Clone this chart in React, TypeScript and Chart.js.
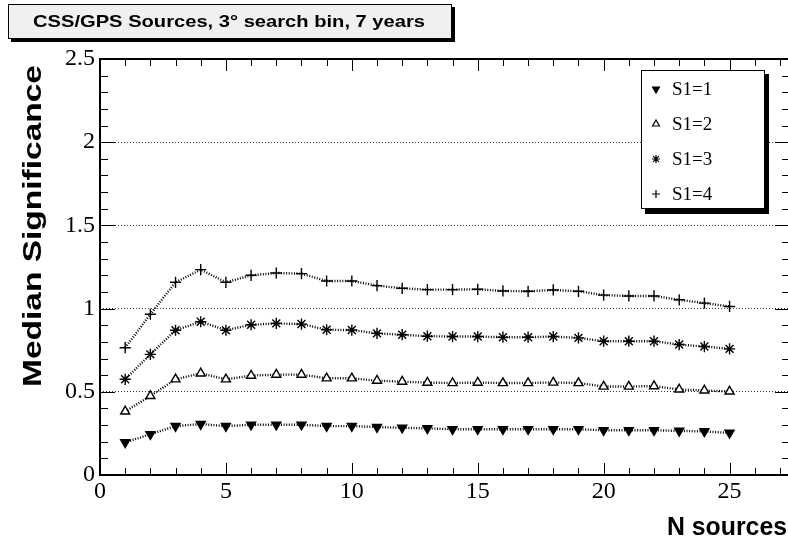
import React, { useEffect, useRef } from 'react';
import { Chart, registerables } from 'chart.js';
import { drawPoint } from 'chart.js/helpers';
Chart.register(...registerables);

// ---- data ----
const nSources = [1, 2, 3, 4, 5, 6, 7, 8, 9, 10, 11, 12, 13, 14, 15, 16, 17, 18, 19, 20, 21, 22, 23, 24, 25];
const s1Eq1 = [0.196, 0.245, 0.294, 0.306, 0.294, 0.302, 0.302, 0.302, 0.294, 0.294, 0.288, 0.284, 0.280, 0.275, 0.275, 0.275, 0.275, 0.275, 0.275, 0.269, 0.269, 0.269, 0.265, 0.262, 0.253];
const s1Eq2 = [0.382, 0.475, 0.575, 0.611, 0.575, 0.597, 0.603, 0.603, 0.581, 0.581, 0.567, 0.561, 0.555, 0.553, 0.555, 0.553, 0.553, 0.556, 0.553, 0.532, 0.532, 0.534, 0.514, 0.508, 0.502];
const s1Eq3 = [0.575, 0.725, 0.870, 0.921, 0.870, 0.903, 0.911, 0.907, 0.873, 0.871, 0.851, 0.843, 0.834, 0.832, 0.832, 0.828, 0.828, 0.832, 0.824, 0.804, 0.804, 0.804, 0.784, 0.772, 0.758];
const s1Eq4 = [0.765, 0.966, 1.158, 1.234, 1.158, 1.200, 1.214, 1.210, 1.166, 1.166, 1.138, 1.122, 1.114, 1.114, 1.116, 1.106, 1.104, 1.112, 1.104, 1.081, 1.076, 1.076, 1.053, 1.033, 1.013];
const seriesLabels = ['S1=1', 'S1=2', 'S1=3', 'S1=4'];
const titleText = 'CSS/GPS Sources, 3\u00B0 search bin, 7 years';
const xTitle = 'N sources';
const yTitle = 'Median Significance';
const xMin = 0;
const xMax = 27.4;
const yMin = 0;
const yMax = 2.5;

const SERIF = 'Liberation Serif';
const SANS = '"Liberation Sans", Arial, sans-serif';

const markerStyles = [
  { pointStyle: 'triangle', rotation: 180, fill: '#000' },
  { pointStyle: 'triangle', rotation: 0, fill: '#fff' },
  { pointStyle: 'star', rotation: 0, fill: '#000' },
  { pointStyle: 'cross', rotation: 0, fill: '#000' },
];

function stretchedText(ctx: CanvasRenderingContext2D, text: string, x: number, y: number, font: string, targetW: number, align: CanvasTextAlign, rotate = 0) {
  ctx.save();
  ctx.font = font;
  const w = ctx.measureText(text).width;
  ctx.translate(x, y);
  if (rotate) ctx.rotate(rotate);
  ctx.scale(targetW / w, 1);
  ctx.textAlign = align;
  ctx.textBaseline = 'alphabetic';
  ctx.fillStyle = '#000';
  ctx.fillText(text, 0, 0);
  ctx.restore();
}

const decorPlugin = {
  id: 'decor',
  afterDatasetsDraw(chart: any) {
    const ctx: CanvasRenderingContext2D = chart.ctx;
    const { left, right, top, bottom } = chart.chartArea;
    const xs = chart.scales.x;
    const ys = chart.scales.y;
    ctx.save();
    ctx.strokeStyle = '#000';
    ctx.lineWidth = 1;
    ctx.beginPath();
    for (let v = 0; v <= 27; v += 1) {
      const px = Math.round(xs.getPixelForValue(v)) + 0.5;
      const len = v % 5 === 0 ? 12 : 7;
      ctx.moveTo(px, bottom); ctx.lineTo(px, bottom - len);
      ctx.moveTo(px, top); ctx.lineTo(px, top + len);
    }
    for (let i = 0; i <= 25; i++) {
      const v = i / 10;
      const py = Math.round(ys.getPixelForValue(v)) + 0.5;
      const len = i % 5 === 0 ? 15 : 8;
      ctx.moveTo(left, py); ctx.lineTo(left + len, py);
      ctx.moveTo(right, py); ctx.lineTo(right - len, py);
    }
    ctx.stroke();
    ctx.lineWidth = 2;
    ctx.strokeRect(left, top, right - left, bottom - top);
    ctx.restore();
  },
  afterDraw(chart: any) {
    const ctx: CanvasRenderingContext2D = chart.ctx;
    ctx.save();
    // title box
    ctx.fillStyle = '#000';
    ctx.fillRect(11, 7, 444, 35);
    ctx.fillStyle = '#f0f0f0';
    ctx.fillRect(8, 4, 444, 35);
    ctx.strokeStyle = '#000';
    ctx.lineWidth = 1;
    ctx.strokeRect(8.5, 4.5, 443, 34);
    stretchedText(ctx, titleText, 229, 27, `bold 17px ${SANS}`, 392, 'center');
    // axis titles
    stretchedText(ctx, xTitle, 787, 535, `bold 25px ${SANS}`, 120, 'right');
    stretchedText(ctx, yTitle, 41, 65, `bold 25px ${SANS}`, 322, 'right', -Math.PI / 2);
    // legend
    ctx.fillStyle = '#000';
    ctx.fillRect(645, 74, 124, 140);
    ctx.fillStyle = '#fff';
    ctx.fillRect(641, 70, 124, 139);
    ctx.strokeStyle = '#000';
    ctx.strokeRect(641.5, 70.5, 123, 138);
    const baselines = [95, 130, 165, 200];
    for (let i = 0; i < 4; i++) {
      const m = markerStyles[i];
      ctx.fillStyle = m.fill;
      ctx.strokeStyle = '#000';
      ctx.lineWidth = 1.2;
      drawPoint(ctx, { pointStyle: m.pointStyle as any, rotation: m.rotation, radius: 4, borderWidth: 1.2 }, 656, baselines[i] - 6);
      ctx.fillStyle = '#000';
      ctx.font = `19px ${SERIF}`;
      ctx.textAlign = 'left';
      ctx.textBaseline = 'alphabetic';
      ctx.fillText(seriesLabels[i], 672, baselines[i]);
    }
    ctx.restore();
  },
};

export default function App() {
  const ref = useRef<HTMLCanvasElement>(null);
  useEffect(() => {
    Chart.defaults.font.family = SERIF;
    const all = [s1Eq1, s1Eq2, s1Eq3, s1Eq4];
    const datasets = all.map((vals, i) => ({
      label: seriesLabels[i],
      data: nSources.map((x, j) => ({ x, y: vals[j] })),
      showLine: true,
      borderColor: '#000',
      borderWidth: 2.4,
      borderDash: [1, 1.6],
      pointStyle: markerStyles[i].pointStyle as any,
      rotation: markerStyles[i].rotation,
      pointRadius: i >= 2 ? 5.6 : 5.2,
      pointBorderWidth: 1.4,
      pointBorderColor: '#000',
      pointBackgroundColor: markerStyles[i].fill,
      tension: 0,
    }));
    const fmt = (v: any) => String(Math.round(Number(v) * 10) / 10);
    const chart = new Chart(ref.current!, {
      type: 'scatter',
      data: { datasets },
      options: {
        animation: false,
        responsive: false,
        devicePixelRatio: 1,
        layout: { padding: { left: 0, top: 59, right: 10, bottom: 0 } },
        plugins: { legend: { display: false }, tooltip: { enabled: false }, title: { display: false } },
        scales: {
          x: {
            type: 'linear',
            min: xMin,
            max: xMax,
            grid: { display: false, drawTicks: false },
            border: { display: false },
            ticks: {
              stepSize: 5,
              includeBounds: false,
              padding: 2,
              color: '#000',
              font: { family: SERIF, size: 24 },
              maxRotation: 0,
              callback: fmt,
            },
            afterFit: (s: any) => { s.height = 75; },
          },
          y: {
            type: 'linear',
            min: yMin,
            max: yMax,
            grid: { display: true, drawTicks: false, color: '#333', lineWidth: 1 },
            border: { display: false, dash: [1, 2] },
            ticks: {
              stepSize: 0.5,
              padding: 5,
              color: '#000',
              font: { family: SERIF, size: 24 },
              callback: fmt,
            },
            afterFit: (s: any) => { s.width = 100; },
          },
        },
      },
      plugins: [decorPlugin],
    });
    return () => chart.destroy();
  }, []);
  return (
    <div style={{ position: 'fixed', left: 0, top: 0, width: 788, height: 550, overflow: 'hidden', background: '#fff' }}>
      <canvas ref={ref} width={800} height={550} style={{ display: 'block', width: 800, height: 550 }} />
    </div>
  );
}
